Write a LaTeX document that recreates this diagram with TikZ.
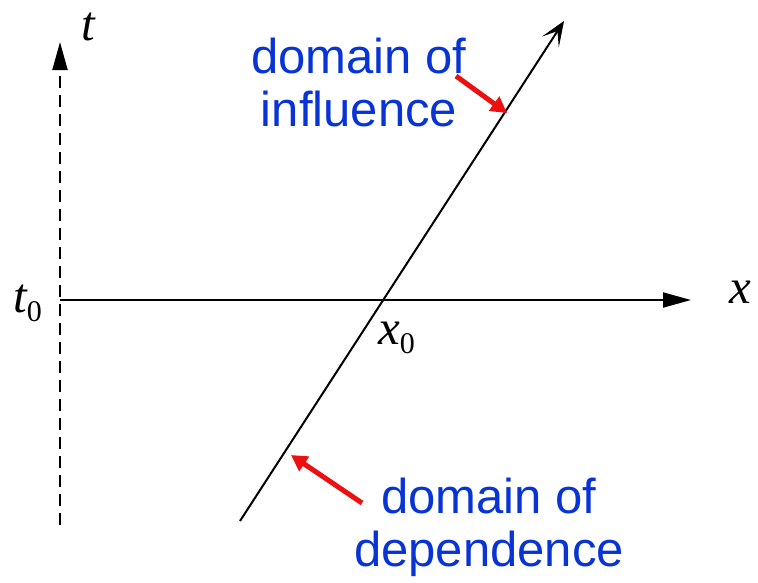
\documentclass[tikz,border=0pt]{standalone}
\usepackage{fontspec}
\setmainfont{Liberation Sans}
\newfontfamily\tms{Liberation Serif}
\usetikzlibrary{arrows.meta}
\definecolor{lblblue}{RGB}{8,52,214}
\definecolor{ptrred}{RGB}{236,16,16}
\tikzset{
  axisline/.style={line width=2pt, -{Triangle[length=28pt,width=15pt]}},
  charline/.style={line width=2pt, -{Stealth[length=25pt,width=20pt,inset=13pt]}},
  pointer/.style={draw=ptrred, line width=5pt, -{Triangle[length=16pt,width=17pt]}},
  bluelabel/.style={text=lblblue, align=center, inner sep=0pt, font=\fontsize{49}{53}\selectfont},
  mathlabel/.style={inner sep=0pt, font=\tms\itshape\fontsize{49}{49}\selectfont}
}
\newcommand{\subzero}{{\upshape\fontsize{30}{30}\selectfont\raisebox{-9pt}{0}}}
\begin{document}
\begin{tikzpicture}[x=1pt,y=-1pt]
\useasboundingbox (0,0) rectangle (758,582);
% axes
\coordinate (tbot) at (60,525);
\coordinate (ttop) at (60,42);
\coordinate (xleft) at (60,300);
\coordinate (xright) at (691,300);
\draw[axisline, dashed, dash pattern=on 12pt off 7pt] (tbot) -- (ttop);
\draw[axisline] (xleft) -- (xright);
% characteristic
\coordinate (cbot) at (240,521);
\coordinate (ctop) at (564,21);
\draw[charline] (cbot) -- (ctop);
% axis labels
\node[mathlabel, anchor=base] (tl) at (88,40) {t};
\node[mathlabel, anchor=base west] (xl) at (729,303) {x};
\node[mathlabel, anchor=base west] (t0l) at (13,312) {t\subzero};
\node[mathlabel, anchor=base west] (x0l) at (378,344) {x\subzero};
% blue labels
\node[bluelabel] (infl) at (359,82) {domain of\\influence};
\node[bluelabel] (dep) at (489,527) {domain of\\dependence};
% red pointers
\coordinate (pin) at (507,113);
\coordinate (pdep) at (291,455);
\coordinate (tin) at (456,76);
\coordinate (tdep) at (362,503);
\draw[pointer] (tin) -- (pin);
\draw[pointer] (tdep) -- (pdep);
\end{tikzpicture}
\end{document}
